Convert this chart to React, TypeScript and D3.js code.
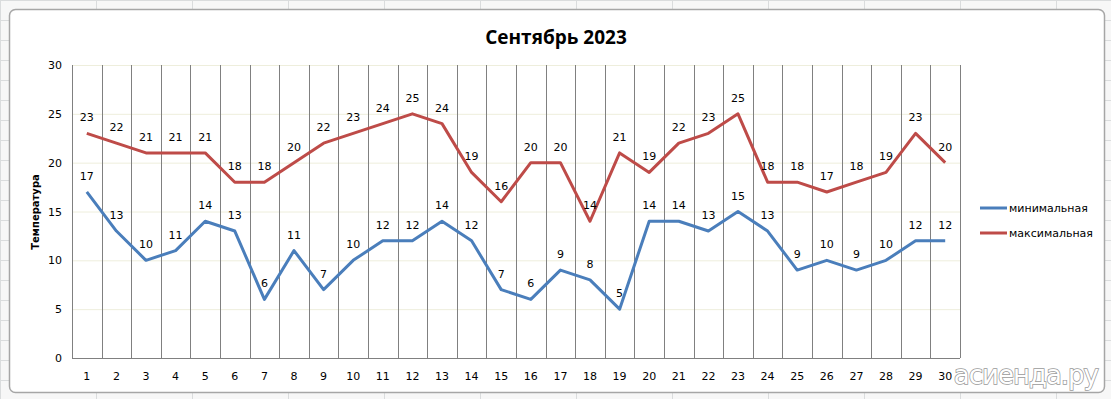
import React from "react";
import * as d3 from "d3";

const days = d3.range(1, 31).map(String);
const minTemps = [17,13,10,11,14,13,6,11,7,10,12,12,14,12,7,6,9,8,5,14,14,13,15,13,9,10,9,10,12,12];
const maxTemps = [23,22,21,21,21,18,18,20,22,23,24,25,24,19,16,20,20,14,21,19,22,23,25,18,18,17,18,19,23,20];
const yTicks = [0, 5, 10, 15, 20, 25, 30];
const seriesNames = ["минимальная", "максимальная"];
const colors = ["#4a7ebb", "#be4b48"];

export default function App() {
  const W = 1111, H = 399;
  const left = 72, right = 960, top = 65, bottom = 358;
  const x = d3.scaleBand().domain(days).range([left, right]);
  const y = d3.scaleLinear().domain([0, 30]).range([bottom, top]);
  const cx = (d: string) => (x(d) as number) + x.bandwidth() / 2;
  const line = d3.line<number>().x((_, i) => cx(days[i])).y((v) => y(v));
  const series = [minTemps, maxTemps];
  const font = "'DejaVu Sans', Verdana, sans-serif";

  const cellCols = d3.range(0, W, 96);
  const cellRows = d3.range(0, H, 20);

  return (
    <svg width={W} height={H} style={{ position: "absolute", left: 0, top: 0, background: "#fff" }}>
      <rect x={0} y={0} width={W} height={H} fill="#f7f7f7" />
      {cellCols.map((c) => (
        <line key={"cc" + c} x1={c + 0.5} x2={c + 0.5} y1={0} y2={H} stroke="#dadcdd" />
      ))}
      {cellRows.map((r) => (
        <line key={"cr" + r} x1={0} x2={W} y1={r + 0.5} y2={r + 0.5} stroke="#dadcdd" />
      ))}
      <rect x={9.5} y={9.5} width={1095} height={383} rx={6} fill="#fff" stroke="#a6a6a6" strokeWidth={1.5} />

      <text x={556} y={44} textAnchor="middle" fontFamily="'Open Sans', 'Noto Sans', sans-serif" fontWeight="bold" fontSize={19} fill="#000">
        Сентябрь 2023
      </text>

      {yTicks.filter((t) => t > 0).map((t) => (
        <line key={"h" + t} x1={left} x2={right} y1={y(t) + 0.5} y2={y(t) + 0.5} stroke="#eeeedc" />
      ))}
      {days.map((d) => (
        <line key={"v" + d} x1={Math.round((x(d) as number) + x.bandwidth()) + 0.5} x2={Math.round((x(d) as number) + x.bandwidth()) + 0.5} y1={top} y2={bottom} stroke="#808080" />
      ))}
      <line x1={left + 0.5} x2={left + 0.5} y1={top} y2={bottom} stroke="#808080" />
      <line x1={left} x2={right} y1={bottom + 0.5} y2={bottom + 0.5} stroke="#808080" />

      {yTicks.map((t) => (
        <text key={"yt" + t} x={62} y={y(t) + 4} textAnchor="end" fontFamily={font} fontSize={11} fill="#000">{t}</text>
      ))}
      {days.map((d) => (
        <text key={"xt" + d} x={cx(d)} y={380} textAnchor="middle" fontFamily={font} fontSize={11} fill="#000">{d}</text>
      ))}
      <text transform={`translate(39,212) rotate(-90)`} textAnchor="middle" fontFamily={font} fontWeight="bold" fontSize={10} fill="#000">Температура</text>

      {series.map((s, si) => (
        <path key={"p" + si} d={line(s) as string} fill="none" stroke={colors[si]} strokeWidth={3} strokeLinejoin="round" />
      ))}
      {series.map((s, si) =>
        s.map((v, i) => (
          <text key={"l" + si + "-" + i} x={cx(days[i])} y={y(v) - 12} textAnchor="middle" fontFamily={font} fontSize={11} fill="#000">{v}</text>
        ))
      )}

      {seriesNames.map((n, i) => (
        <g key={"lg" + i}>
          <line x1={980} x2={1007} y1={208 + i * 25} y2={208 + i * 25} stroke={colors[i]} strokeWidth={3} />
          <text x={1009} y={212 + i * 25} fontFamily={font} fontSize={11} fill="#000">{n}</text>
        </g>
      ))}

      <text x={1098} y={384} textAnchor="end" fontFamily="'DejaVu Sans', sans-serif" fontSize={26} fill="#fff" stroke="#9a9a9a" strokeWidth={1.5} paintOrder="stroke" letterSpacing={-1}>
        асиенда.ру
      </text>
    </svg>
  );
}
